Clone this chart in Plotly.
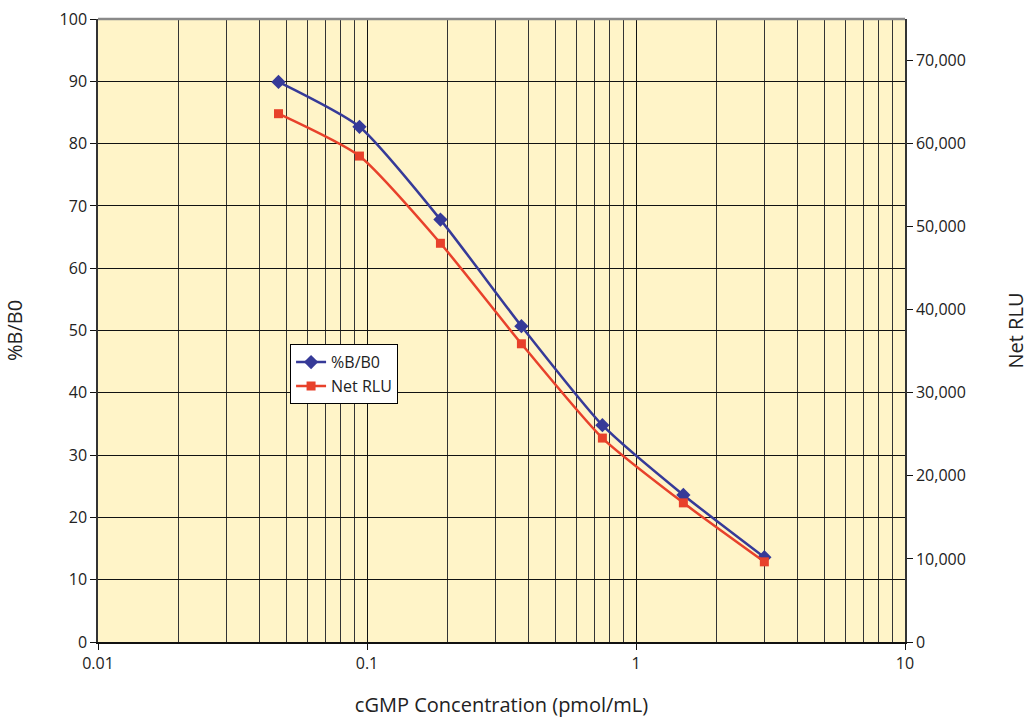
import plotly.graph_objects as go

concentration = [0.046875, 0.09375, 0.1875, 0.375, 0.75, 1.5, 3.0]
pct_b_b0 = [89.9, 82.7, 67.8, 50.7, 34.8, 23.6, 13.6]
net_rlu = [63600, 58500, 48000, 35900, 24550, 16750, 9650]

x_ticks = [0.01, 0.1, 1, 10]
x_ticktext = ["0.01", "0.1", "1", "10"]

blue = "#363A98"
red = "#E8412B"
font = "Open Sans"

fig = go.Figure()
fig.add_trace(go.Scatter(
    x=concentration, y=pct_b_b0, name="%B/B0", mode="lines+markers",
    line=dict(color=blue, width=2.5, shape="spline", smoothing=0.6),
    marker=dict(symbol="diamond", size=11, color=blue),
))
fig.add_trace(go.Scatter(
    x=concentration, y=net_rlu, name="Net RLU", mode="lines+markers", yaxis="y2",
    line=dict(color=red, width=2.5, shape="spline", smoothing=0.6),
    marker=dict(symbol="square", size=9, color=red),
))

fig.update_layout(
    width=1031, height=718,
    margin=dict(l=98, r=126, t=19, b=76, autoexpand=False),
    paper_bgcolor="white", plot_bgcolor="#FFF4C8",
    font=dict(family=font, size=16, color="#222"),
    showlegend=True,
    legend=dict(x=0.238, y=0.478, xanchor="left", yanchor="top",
                bgcolor="white", bordercolor="black", borderwidth=1,
                font=dict(size=16, color="#222"), tracegroupgap=0,
                itemwidth=30),
    xaxis=dict(
        type="log", range=[-2, 1], tickvals=x_ticks, ticktext=x_ticktext,
        showgrid=True, gridcolor="#111", gridwidth=1,
        minor=dict(dtick="D1", showgrid=True, gridcolor="#333", gridwidth=1, ticks=""),
        showline=True, linecolor="#111", linewidth=1.5,
        ticks="outside", ticklen=6, tickcolor="#111",
        title=dict(text="cGMP Concentration (pmol/mL)", font=dict(size=20), standoff=34),
        zeroline=False, automargin=False,
    ),
    yaxis=dict(
        range=[0, 100], dtick=10, showgrid=True, gridcolor="#111", gridwidth=1,
        showline=True, linecolor="#333", linewidth=1.5,
        ticks="outside", ticklen=6, tickcolor="#111",
        title=dict(text="%B/B0", font=dict(size=20), standoff=32),
        zeroline=False, automargin=False,
    ),
    yaxis2=dict(
        range=[0, 75000], dtick=10000, overlaying="y", side="right",
        showgrid=False, tickformat=",d",
        showline=True, linecolor="#333", linewidth=1.5,
        ticks="outside", ticklen=6, tickcolor="#111",
        title=dict(text="Net RLU", font=dict(size=20), standoff=44),
        zeroline=False, automargin=False,
    ),
    shapes=[dict(type="line", xref="paper", yref="paper", x0=0, x1=1, y0=1, y1=1,
                 line=dict(color="#8a8a8a", width=2.5))],
)

fig.write_html("out.html")
